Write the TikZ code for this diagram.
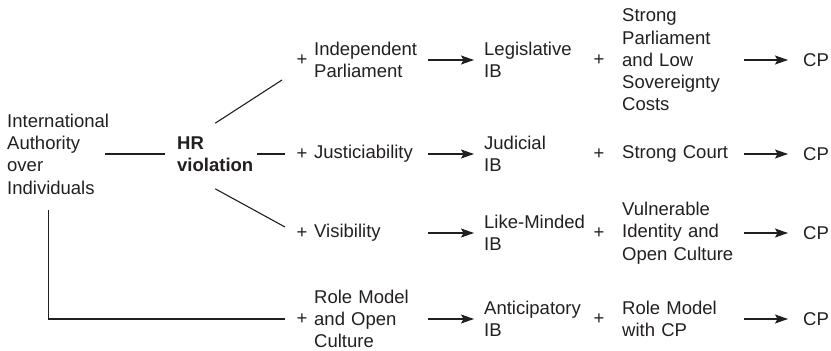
\documentclass[tikz,border=0pt]{standalone}
\usepackage{fontspec}
\setmainfont{Liberation Sans}
\usepackage{tikz}
\usetikzlibrary{arrows.meta,positioning}
\definecolor{ink}{HTML}{231F20}

\begin{document}
\begin{tikzpicture}[x=1pt, y=-1pt,
    every node/.style={font=\fontsize{18.5}{22.3}\selectfont, text=ink, inner sep=0pt},
    lbl/.style={anchor=west, align=left},
    factor/.style={lbl, text width=114pt},
    cond/.style={lbl, text width=122pt},
    link/.style={draw=ink, line width=1.1pt},
    arr/.style={link, -{Stealth[length=13pt,width=9pt,inset=2.5pt]}}]
    \useasboundingbox (0,0) rectangle (831,351);

    % Source and trigger
    \node[lbl] (auth) at (7,154) {International\\Authority\\over\\Individuals};
    \node[lbl, font=\fontsize{18.5}{22.3}\selectfont\bfseries] (hr) at (177,154) {HR\\violation};
    \draw[link, shorten <=-4pt, shorten >=12pt] (auth.east) -- (hr.west);

    % Legislative route
    \node (plus1) at (302,60) {+};
    \node[factor] (fac1) at (314,60) {Independent\\Parliament};
    \node[lbl] (ib1) at (484,60) {Legislative\\IB};
    \node (plusr1) at (599,60) {+};
    \node[cond] (cond1) at (622,60) {Strong\\Parliament\\and Low\\Sovereignty\\Costs};
    \node[lbl] (cp1) at (803,60) {CP};
    \draw[arr, shorten >=10pt] (fac1.east) -- (ib1.west);
    \draw[arr, shorten >=15pt] (cond1.east) -- (cp1.west);

    % Judicial route
    \node (plus2) at (302,154) {+};
    \node[factor] (fac2) at (314,154) {Justiciability};
    \node[lbl] (ib2) at (484,154) {Judicial\\IB};
    \node (plusr2) at (599,154) {+};
    \node[cond] (cond2) at (622,154) {Strong Court};
    \node[lbl] (cp2) at (803,154) {CP};
    \draw[arr, shorten >=10pt] (fac2.east) -- (ib2.west);
    \draw[arr, shorten >=15pt] (cond2.east) -- (cp2.west);

    % Like-minded route
    \node (plus3) at (302,233) {+};
    \node[factor] (fac3) at (314,233) {Visibility};
    \node[lbl] (ib3) at (484,233) {Like-Minded\\IB};
    \node (plusr3) at (599,233) {+};
    \node[cond] (cond3) at (622,233) {Vulnerable\\Identity and\\Open Culture};
    \node[lbl] (cp3) at (803,233) {CP};
    \draw[arr, shorten >=10pt] (fac3.east) -- (ib3.west);
    \draw[arr, shorten >=15pt] (cond3.east) -- (cp3.west);

    % Anticipatory route
    \node (plus4) at (302,319) {+};
    \node[factor] (fac4) at (314,319) {Role Model\\and Open\\Culture};
    \node[lbl] (ib4) at (484,319) {Anticipatory\\IB};
    \node (plusr4) at (599,319) {+};
    \node[cond] (cond4) at (622,319) {Role Model\\with CP};
    \node[lbl] (cp4) at (803,319) {CP};
    \draw[arr, shorten >=10pt] (fac4.east) -- (ib4.west);
    \draw[arr, shorten >=15pt] (cond4.east) -- (cp4.west);

    % Branches
    \draw[link] ([yshift=13pt]hr.north) -- ([xshift=-20pt,yshift=-20pt]plus1.center);
    \draw[link] ([xshift=4pt]hr.east) -- ([xshift=-17pt]plus2.center);
    \draw[link] ([yshift=-17pt]hr.south) -- ([xshift=-17pt,yshift=6pt]plus3.center);
    \draw[link] ([xshift=-10pt,yshift=-16pt]auth.south) |- ([xshift=-17pt]plus4.center);
\end{tikzpicture}
\end{document}
